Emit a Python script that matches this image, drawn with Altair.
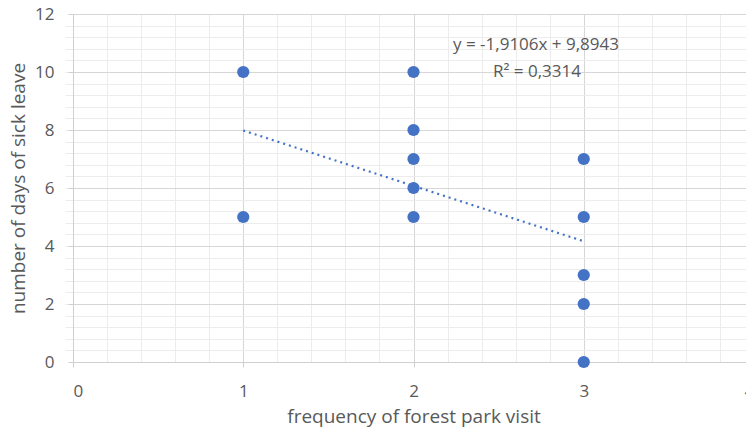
import altair as alt
import pandas as pd
import numpy as np

# Data
visit_freq = [1, 1, 2, 2, 2, 2, 2, 3, 3, 3, 3, 3]
sick_days = [10, 5, 10, 8, 7, 6, 5, 7, 5, 3, 2, 0]

# Trendline from the displayed equation
slope = -1.9106
intercept = 9.8943
trend_x = [1, 3]
trend_y = [slope * v + intercept for v in trend_x]

x_major = [0, 1, 2, 3, 4]
y_major = [0, 2, 4, 6, 8, 10, 12]
x_minor = [round(v, 2) for v in np.arange(0.2, 4.0, 0.2)]
y_minor = [round(v, 2) for v in np.arange(0.4, 12.0, 0.4)]

eq_lines = ["y = -1,9106x + 9,8943", "R² = 0,3314"]

pts = pd.DataFrame({"x": visit_freq, "y": sick_days})
trend = pd.DataFrame({"x": trend_x, "y": trend_y})

FONT = "Open Sans"
GRAY = "#595959"
BLUE = "#4472C4"

xs = alt.Scale(domain=[0, 4], nice=False, zero=False, range=[0, 681])
ys = alt.Scale(domain=[0, 12], nice=False, zero=False)

minor = alt.Chart(pts).mark_point(opacity=0).encode(
    x=alt.X("x:Q", scale=xs, axis=alt.Axis(values=x_minor, grid=True, gridColor="#ececec",
                                            gridWidth=1, labels=False, ticks=False, domain=False,
                                            title=None, orient="top")),
    y=alt.Y("y:Q", scale=ys, axis=alt.Axis(values=y_minor, grid=True, gridColor="#ececec",
                                            gridWidth=1, labels=False, ticks=False, domain=False,
                                            title=None, orient="right")),
)

line = alt.Chart(trend).mark_line(color=BLUE, strokeWidth=2.2, strokeDash=[2, 4]).encode(
    x=alt.X("x:Q", scale=xs, axis=alt.Axis(values=x_major, grid=True, gridColor="#d6d6d6",
                                            domainColor="#d0d0d0", tickColor="#d0d0d0", tickSize=5,
                                            labelFont=FONT, labelFontSize=17, labelColor=GRAY,
                                            labelPadding=16, title="frequency of forest park visit",
                                            titleFont=FONT, titleFontSize=19, titleColor=GRAY,
                                            titleFontWeight="normal", titlePadding=8)),
    y=alt.Y("y:Q", scale=ys, axis=alt.Axis(values=y_major, grid=True, gridColor="#d6d6d6",
                                            domainColor="#d0d0d0", tickColor="#d0d0d0", tickSize=5,
                                            labelFont=FONT, labelFontSize=17, labelColor=GRAY,
                                            labelPadding=14, title="number of days of sick leave",
                                            titleFont=FONT, titleFontSize=19, titleColor=GRAY,
                                            titleFontWeight="normal", titlePadding=6)),
)

points = alt.Chart(pts).mark_circle(color=BLUE, size=150, opacity=1).encode(
    x=alt.X("x:Q", scale=xs, axis=None), y=alt.Y("y:Q", scale=ys, axis=None)
)

eq = alt.Chart(pd.DataFrame({"t": [eq_lines[0]]})).mark_text(
    font=FONT, fontSize=17, color=GRAY, align="center", baseline="middle"
).encode(text="t:N", x=alt.value(463), y=alt.value(31))
r2 = alt.Chart(pd.DataFrame({"t": [eq_lines[1]]})).mark_text(
    font=FONT, fontSize=17, color=GRAY, align="center", baseline="middle"
).encode(text="t:N", x=alt.value(464), y=alt.value(58))

chart = alt.layer(minor, line, points, eq, r2).resolve_axis(
    x="independent", y="independent"
).properties(
    width=673, height=348,
    autosize=alt.AutoSizeParams(type="none"),
    padding={"left": 65, "top": 6, "right": 0, "bottom": 66},
).configure_view(stroke=None)

chart.save("out.html", embed_options={"renderer": "svg", "actions": False})
